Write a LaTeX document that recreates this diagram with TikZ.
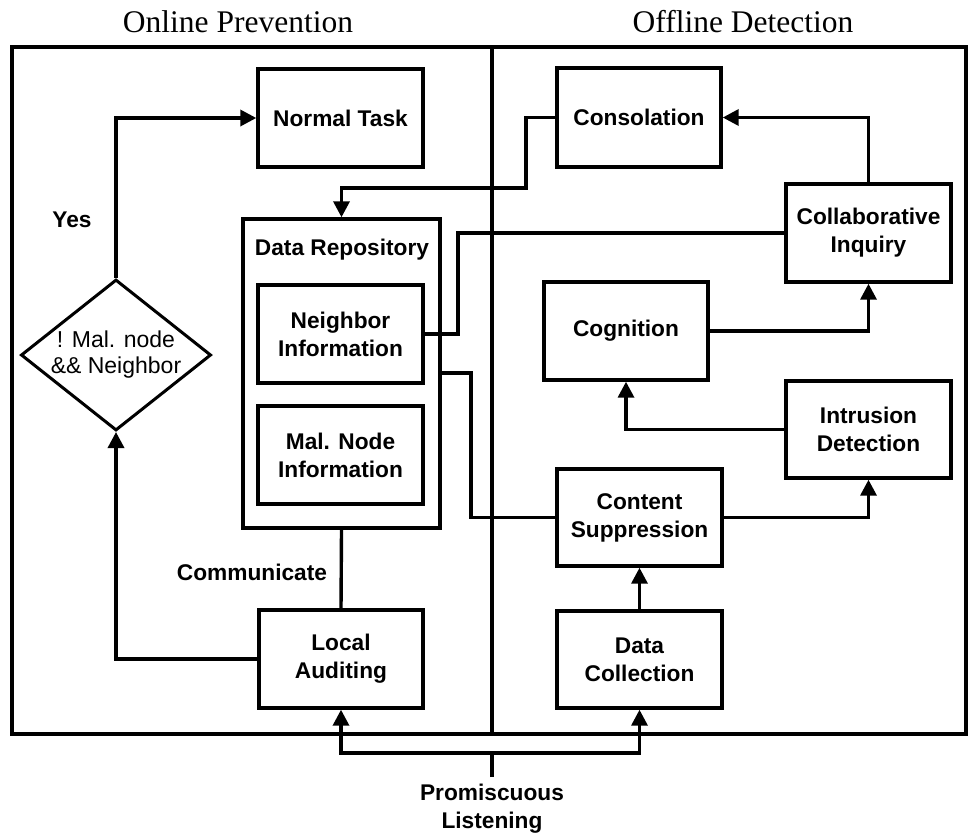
\documentclass[tikz,border=0pt]{standalone}
\usepackage{fontspec}
\setmainfont{Liberation Serif}
\setsansfont{Liberation Sans}
\usetikzlibrary{shapes.geometric,arrows.meta}
\newcommand{\boxfont}{\fontsize{22.7}{28}\selectfont\sffamily\bfseries}
\newcommand{\diafont}{\fontsize{23}{26}\selectfont\sffamily}
\newcommand{\ttlfont}{\fontsize{31.5}{36}\selectfont\rmfamily}
\begin{document}
\begin{tikzpicture}[x=1pt,y=-1pt,
  thk/.style={line width=3.4pt},
  conn/.style={draw, line width=3.4pt},
  box/.style={draw, line width=3.4pt, minimum width=165pt, minimum height=98pt, inner sep=0pt, align=center, font=\boxfont},
  lbl/.style={font=\boxfont, inner sep=0pt, align=center},
  ttl/.style={font=\ttlfont, inner sep=0pt, anchor=base},
  arr/.style={conn, -{Triangle[length=16pt,width=16pt]}}]
\useasboundingbox (0,0) rectangle (973,838);

% frame
\draw[thk] (12,47) rectangle (966,734);
\draw[thk] (492,47) -- (492,734);

% titles
\node[ttl] (t1) at (238,32) {Online Prevention};
\node[ttl] (t2) at (743,32) {Offline Detection};

% boxes
\node[box] (NT) at (340.5,118) {Normal Task};
\node[box, minimum width=164pt, minimum height=99pt] (Cons) at (639,117.5) {Consolation};
\node[box] (CI) at (868.5,233) {Collaborative\\Inquiry};
\node[box, minimum width=164pt] (Cog) at (626,331) {Cognition};
\node[box, minimum height=97pt] (ID) at (868.5,429.5) {Intrusion\\Detection};
\node[box, minimum height=97pt] (CS) at (639.5,517.5) {Content\\Suppression};
\node[box, minimum height=97pt] (DC) at (639.5,659.5) {Data\\Collection};
\node[box, minimum width=164pt] (LA) at (341,659) {Local\\Auditing};
\node[draw, line width=3.4pt, minimum width=197pt, minimum height=309pt, inner sep=0pt] (DR) at (341.5,373.5) {};
\node[lbl] (DRl) at (342,250) {Data Repository};
\node[box] (Nbr) at (340.5,334) {Neighbor\\Information};
\node[box] (Mal) at (340.5,455) {Mal. Node\\Information};
\node[diamond, draw, line width=3pt, minimum width=190pt, minimum height=151pt, inner sep=0pt, aspect=1.26, align=center, font=\diafont] (dia) at (116,355) {! Mal. node\\\&\& Neighbor};

% labels
\node[lbl] (yes) at (72,220) {Yes};
\node[lbl] (comm) at (252,572) {Communicate};
\node[lbl] (PL) at (492,808.5) {Promiscuous\\Listening};

% helper coordinates
\coordinate (c1) at (526,188);
\coordinate (c2) at (458,233);
\coordinate (c3) at (471,373);
\coordinate (bus) at (492,753);
\coordinate (plt) at (492,777);

% connectors
\draw[arr] (dia.north) |- (NT.west);
\draw[arr] (LA.west) -| (dia.south);
\draw[conn] (DR.south) -- (LA.north);
\draw[arr] (Cons.west) -| (c1) -| (DR.north);
\draw[conn] (Nbr.east) -| (c2) -- (CI.west);
\draw[conn] (c3 -| DR.east) -- (c3) |- (CS.west);
\draw[arr] (CI.north) |- (Cons.east);
\draw[arr] (Cog.east) -| (CI.south);
\draw[arr] (ID.west) -| (Cog.south);
\draw[arr] (CS.east) -| (ID.south);
\draw[arr] (DC.north) -- (CS.south);
\draw[conn] (plt) -- (bus);
\draw[arr] (bus) -| (LA.south);
\draw[arr] (bus) -| (DC.south);
\end{tikzpicture}
\end{document}
